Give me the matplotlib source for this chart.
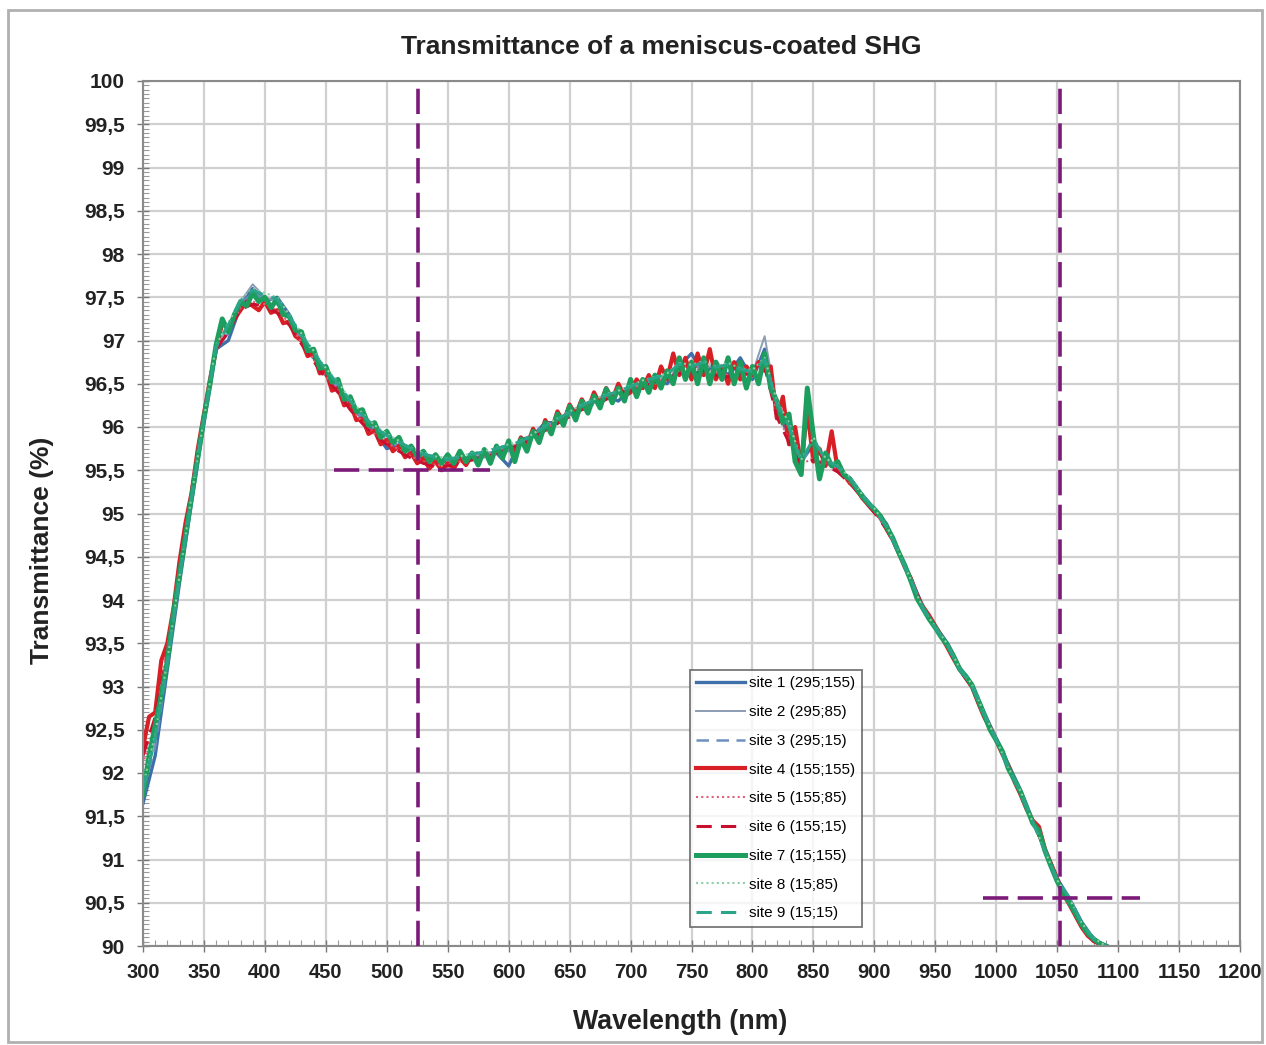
import numpy as np
import matplotlib
matplotlib.use("Agg")
import matplotlib.pyplot as plt
from matplotlib.patches import Rectangle
from matplotlib.ticker import MultipleLocator, FixedLocator

plt.rcParams['font.family'] = ['Liberation Sans', 'DejaVu Sans']

# ---------------- data ----------------
wl5 = np.arange(300, 1095, 5)    # fine sampling (sites 4, 7)
wl10 = np.arange(300, 1095, 10)  # coarse sampling (other sites)

site7 = [91.75, 92.2, 92.55, 92.9, 93.3, 93.85, 94.3, 94.75, 95.2, 95.65,
         96.1, 96.5, 96.95, 97.25, 97.1, 97.3, 97.45, 97.4, 97.55, 97.45,
         97.5, 97.38, 97.48, 97.3, 97.28, 97.12, 97.1, 96.88, 96.9, 96.68,
         96.7, 96.52, 96.55, 96.32, 96.35, 96.18, 96.2, 96.02, 96.05, 95.88,
         95.95, 95.82, 95.88, 95.72, 95.78, 95.66, 95.72, 95.6, 95.68, 95.58,
         95.68, 95.58, 95.72, 95.6, 95.7, 95.56, 95.74, 95.58, 95.78, 95.64,
         95.84, 95.6, 95.86, 95.72, 95.95, 95.82, 96.05, 95.92, 96.15, 96.02,
         96.24, 96.08, 96.3, 96.16, 96.36, 96.22, 96.44, 96.28, 96.45, 96.3,
         96.55, 96.35, 96.55, 96.4, 96.6, 96.45, 96.65, 96.5, 96.8, 96.55,
         96.75, 96.5, 96.8, 96.5, 96.75, 96.55, 96.8, 96.5, 96.75, 96.45,
         96.7, 96.5, 96.85, 96.45, 96.3, 96.05, 96.15, 95.6, 95.45, 96.45,
         95.9, 95.4, 95.7, 95.55, 95.6, 95.45, 95.4, 95.3, 95.2, 95.12,
         95.05, 94.97, 94.85, 94.72, 94.55, 94.4, 94.22, 94.02, 93.9, 93.78,
         93.68, 93.57, 93.48, 93.35, 93.2, 93.12, 93.02, 92.85, 92.68, 92.5,
         92.38, 92.25, 92.05, 91.92, 91.78, 91.6, 91.42, 91.33, 91.1, 90.92,
         90.75, 90.62, 90.5, 90.38, 90.25, 90.15, 90.08, 90.03, 90.0]

site4 = [92.3, 92.65, 92.7, 93.3, 93.5, 93.9, 94.45, 94.9, 95.25, 95.75,
         96.15, 96.55, 96.9, 97.2, 97.15, 97.25, 97.35, 97.45, 97.4, 97.35,
         97.45, 97.32, 97.35, 97.2, 97.22, 97.05, 97.0, 96.82, 96.85, 96.62,
         96.65, 96.42, 96.45, 96.25, 96.28, 96.08, 96.1, 95.92, 95.96, 95.8,
         95.85, 95.72, 95.78, 95.65, 95.7, 95.58, 95.64, 95.52, 95.6, 95.5,
         95.58, 95.52, 95.64, 95.56, 95.68, 95.6, 95.72, 95.62, 95.76, 95.66,
         95.8, 95.7, 95.88, 95.78, 95.98, 95.86, 96.08, 95.96, 96.18, 96.06,
         96.26, 96.14, 96.32, 96.2, 96.4, 96.26, 96.45, 96.32, 96.5, 96.36,
         96.4, 96.55, 96.45, 96.6, 96.45, 96.7, 96.55, 96.85, 96.6, 96.8,
         96.55, 96.85, 96.6, 96.9, 96.55, 96.7, 96.5, 96.75, 96.55, 96.7,
         96.6, 96.75, 96.65, 96.7, 96.1, 96.35, 95.8, 96.0, 95.55, 96.2,
         95.6, 95.75, 95.55, 95.95, 95.5, 95.45, 95.35, 95.3, 95.18, 95.1,
         95.02, 94.95, 94.82, 94.7, 94.55, 94.38, 94.25, 94.05, 93.92, 93.82,
         93.7, 93.58, 93.45, 93.32, 93.2, 93.1, 93.0, 92.82, 92.65, 92.52,
         92.38, 92.22, 92.08, 91.9, 91.75, 91.58, 91.45, 91.38, 91.12, 90.95,
         90.78, 90.6, 90.48, 90.35, 90.22, 90.12, 90.06, 90.02, 90.0]

site1 = [91.65, 92.2, 93.2, 94.2, 95.15, 96.05, 96.9, 97.0, 97.4, 97.6,
         97.45, 97.5, 97.3, 97.0, 96.8, 96.6, 96.45, 96.25, 96.1, 95.95,
         95.75, 95.8, 95.7, 95.65, 95.62, 95.6, 95.65, 95.62, 95.68, 95.7,
         95.55, 95.85, 95.9, 96.05, 96.05, 96.15, 96.25, 96.3, 96.35, 96.3,
         96.45, 96.45, 96.55, 96.5, 96.7, 96.85, 96.6, 96.75, 96.6, 96.8,
         96.55, 96.9, 96.2, 95.9, 95.6, 95.8, 95.6, 95.5, 95.4, 95.22,
         95.05, 94.88, 94.55, 94.25, 93.92, 93.7, 93.5, 93.22, 93.02, 92.7,
         92.4, 92.1, 91.8, 91.45, 91.12, 90.78, 90.55, 90.28, 90.08, 90.0]

site2 = [91.9, 92.4, 93.35, 94.3, 95.25, 96.1, 96.95, 97.15, 97.45, 97.65,
         97.5, 97.45, 97.25, 97.02, 96.82, 96.62, 96.48, 96.28, 96.12, 95.98,
         95.85, 95.8, 95.72, 95.66, 95.63, 95.6, 95.64, 95.66, 95.7, 95.72,
         95.78, 95.8, 95.92, 96.0, 96.08, 96.18, 96.22, 96.3, 96.38, 96.4,
         96.45, 96.5, 96.58, 96.6, 96.72, 96.7, 96.72, 96.68, 96.7, 96.65,
         96.62, 97.05, 96.25, 96.0, 95.65, 95.85, 95.62, 95.52, 95.42, 95.2,
         95.05, 94.86, 94.56, 94.24, 93.9, 93.7, 93.48, 93.2, 93.03, 92.68,
         92.38, 92.06, 91.78, 91.43, 91.1, 90.76, 90.56, 90.26, 90.08, 90.0]

site3 = [91.8, 92.3, 93.25, 94.25, 95.2, 96.08, 96.92, 97.08, 97.42, 97.55,
         97.48, 97.42, 97.28, 97.0, 96.8, 96.62, 96.45, 96.27, 96.1, 95.96,
         95.84, 95.78, 95.7, 95.64, 95.6, 95.62, 95.6, 95.66, 95.65, 95.74,
         95.72, 95.83, 95.9, 95.98, 96.08, 96.14, 96.24, 96.28, 96.36, 96.38,
         96.46, 96.48, 96.55, 96.56, 96.68, 96.72, 96.66, 96.72, 96.62, 96.7,
         96.58, 96.8, 96.28, 95.95, 95.58, 95.82, 95.6, 95.5, 95.4, 95.2,
         95.04, 94.85, 94.54, 94.24, 93.91, 93.69, 93.47, 93.21, 93.01, 92.69,
         92.39, 92.07, 91.79, 91.44, 91.11, 90.77, 90.52, 90.26, 90.07, 90.0]

site5 = [92.1, 92.6, 93.45, 94.4, 95.3, 96.15, 96.92, 97.12, 97.38, 97.45,
         97.42, 97.35, 97.2, 96.98, 96.78, 96.58, 96.42, 96.22, 96.06, 95.92,
         95.82, 95.74, 95.66, 95.6, 95.56, 95.56, 95.6, 95.62, 95.66, 95.72,
         95.76, 95.82, 95.9, 95.98, 96.06, 96.14, 96.22, 96.26, 96.34, 96.4,
         96.44, 96.5, 96.5, 96.6, 96.65, 96.62, 96.7, 96.62, 96.6, 96.65,
         96.62, 96.72, 96.15, 95.85, 95.56, 95.65, 95.58, 95.5, 95.36, 95.19,
         95.02, 94.83, 94.55, 94.25, 93.92, 93.7, 93.46, 93.2, 93.0, 92.66,
         92.38, 92.08, 91.76, 91.45, 91.12, 90.78, 90.49, 90.23, 90.06, 90.0]

site6 = [92.2, 92.65, 93.4, 94.38, 95.28, 96.12, 96.9, 97.1, 97.36, 97.42,
         97.4, 97.32, 97.18, 96.96, 96.76, 96.56, 96.4, 96.2, 96.04, 95.9,
         95.8, 95.72, 95.64, 95.58, 95.54, 95.55, 95.58, 95.62, 95.64, 95.7,
         95.74, 95.8, 95.88, 95.96, 96.04, 96.12, 96.2, 96.24, 96.32, 96.38,
         96.42, 96.46, 96.52, 96.56, 96.62, 96.6, 96.66, 96.6, 96.58, 96.62,
         96.6, 96.7, 96.12, 95.82, 95.55, 95.62, 95.56, 95.48, 95.35, 95.18,
         95.01, 94.82, 94.54, 94.24, 93.91, 93.69, 93.45, 93.19, 92.99, 92.65,
         92.37, 92.07, 91.75, 91.44, 91.11, 90.77, 90.48, 90.22, 90.05, 90.0]

site8 = [91.85, 92.45, 93.3, 94.28, 95.22, 96.1, 96.95, 97.2, 97.48, 97.6,
         97.55, 97.5, 97.3, 97.08, 96.88, 96.68, 96.52, 96.32, 96.16, 96.02,
         95.92, 95.84, 95.76, 95.7, 95.66, 95.64, 95.66, 95.7, 95.72, 95.76,
         95.8, 95.84, 95.92, 96.02, 96.1, 96.18, 96.26, 96.32, 96.38, 96.42,
         96.48, 96.54, 96.58, 96.62, 96.74, 96.72, 96.76, 96.7, 96.74, 96.68,
         96.66, 96.8, 96.3, 96.05, 95.62, 95.88, 95.64, 95.55, 95.42, 95.22,
         95.06, 94.86, 94.56, 94.23, 93.9, 93.69, 93.49, 93.21, 93.03, 92.69,
         92.39, 92.06, 91.79, 91.43, 91.1, 90.76, 90.55, 90.27, 90.09, 90.0]

site9 = [91.8, 92.4, 93.28, 94.26, 95.2, 96.08, 96.93, 97.18, 97.46, 97.58,
         97.52, 97.48, 97.28, 97.06, 96.86, 96.66, 96.5, 96.3, 96.14, 96.0,
         95.9, 95.83, 95.75, 95.69, 95.65, 95.63, 95.65, 95.69, 95.71, 95.75,
         95.79, 95.83, 95.91, 96.01, 96.09, 96.17, 96.25, 96.31, 96.37, 96.41,
         96.47, 96.53, 96.57, 96.61, 96.73, 96.7, 96.75, 96.69, 96.72, 96.67,
         96.64, 96.78, 96.28, 96.0, 95.6, 95.86, 95.62, 95.54, 95.41, 95.21,
         95.05, 94.85, 94.55, 94.23, 93.9, 93.68, 93.48, 93.2, 93.02, 92.68,
         92.38, 92.06, 91.78, 91.43, 91.1, 90.76, 90.56, 90.27, 90.08, 90.0]

labels = ["site 1 (295;155)", "site 2 (295;85)", "site 3 (295;15)",
          "site 4 (155;155)", "site 5 (155;85)", "site 6 (155;15)",
          "site 7 (15;155)", "site 8 (15;85)", "site 9 (15;15)"]

ytick_vals = [90, 90.5, 91, 91.5, 92, 92.5, 93, 93.5, 94, 94.5, 95, 95.5,
              96, 96.5, 97, 97.5, 98, 98.5, 99, 99.5, 100]
ytick_labels = ["90", "90,5", "91", "91,5", "92", "92,5", "93", "93,5", "94",
                "94,5", "95", "95,5", "96", "96,5", "97", "97,5", "98", "98,5",
                "99", "99,5", "100"]
xtick_vals = [300, 350, 400, 450, 500, 550, 600, 650, 700, 750, 800, 850,
              900, 950, 1000, 1050, 1100, 1150, 1200]

# marker lines (wavelengths and levels)
vlines_nm = [526, 1052]
hline1 = (95.5, 457, 585)
hline2 = (90.55, 989, 1118)

# ---------------- figure ----------------
W, H = 1266, 1045
fig = plt.figure(figsize=(W / 100, H / 100), dpi=100)
fig.patch.set_facecolor('white')
ax = fig.add_axes([143 / W, 1 - 946 / H, (1240 - 143) / W, (946 - 81) / H])

series = [
    (wl10, site1, dict(color='#3f6fa8', lw=2.4, ls='-')),
    (wl10, site2, dict(color='#8b9db3', lw=1.4, ls='-')),
    (wl10, site3, dict(color='#6d8fbf', lw=1.8, ls=(0, (5, 3)))),
    (wl5, site4, dict(color='#d91f26', lw=3.0, ls='-')),
    (wl10, site5, dict(color='#e0607a', lw=1.5, ls=(0, (1, 1.5)))),
    (wl10, site6, dict(color='#c8102e', lw=2.2, ls=(0, (5, 3)))),
    (wl5, site7, dict(color='#1e9e5e', lw=3.6, ls='-')),
    (wl10, site8, dict(color='#8ccfa8', lw=1.5, ls=(0, (1, 1.5)))),
    (wl10, site9, dict(color='#2aa58a', lw=2.2, ls=(0, (5, 3)))),
]
for (x, y, st), lab in zip(series, labels):
    ax.plot(x, y, label=lab, solid_joinstyle='round', **st)

purple = '#7b1a78'
for v in vlines_nm:
    ax.plot([v, v], [90, 100], color=purple, lw=2.6, ls=(0, (7, 2.6)), zorder=5)
for lvl, x0, x1 in (hline1, hline2):
    ax.plot([x0, x1], [lvl, lvl], color=purple, lw=2.6, ls=(0, (7, 2.6)), zorder=5,
            clip_on=False)

ax.set_xlim(300, 1200)
ax.set_ylim(90, 100)
ax.xaxis.set_major_locator(FixedLocator(xtick_vals))
ax.xaxis.set_minor_locator(MultipleLocator(10))
ax.yaxis.set_major_locator(FixedLocator(ytick_vals))
ax.yaxis.set_minor_locator(MultipleLocator(0.05))
ax.set_yticklabels(ytick_labels)
ax.set_xticklabels([str(v) for v in xtick_vals])
ax.grid(True, which='major', color='#d0d0d0', lw=1.6)
ax.set_axisbelow(True)
for sp in ax.spines.values():
    sp.set_color('#8a8a8a')
    sp.set_linewidth(1.5)
ax.tick_params(axis='both', which='major', direction='inout', length=8,
               color='#777777', width=1.0)
ax.tick_params(axis='both', which='minor', direction='in', length=4,
               color='#999999', width=0.8)
ax.tick_params(axis='x', which='major', labelsize=14.5, pad=8)
ax.tick_params(axis='y', which='major', labelsize=15, pad=9)
for t in ax.get_xticklabels() + ax.get_yticklabels():
    t.set_fontweight('bold')
    t.set_color('#222222')

leg = ax.legend(loc='upper left', bbox_to_anchor=((690 - 143) / 1097, (946 - 670) / 865),
                fontsize=11, frameon=True, fancybox=False, handlelength=3.2,
                handletextpad=0.25, labelspacing=0.965, borderpad=0.42,
                borderaxespad=0)
leg.get_frame().set_edgecolor('#555555')
leg.get_frame().set_linewidth(1.3)

fig.text(661 / W, 1 - 47 / H, 'Transmittance of a meniscus-coated SHG',
         ha='center', va='center', fontsize=19, fontweight='bold', color='#222222')
fig.text(680 / W, 1 - 1022 / H, 'Wavelength (nm)', ha='center', va='center',
         fontsize=19.3, fontweight='bold', color='#222222')
fig.text(42 / W, 1 - 550 / H, 'Transmittance (%)', ha='center', va='center',
         rotation=90, fontsize=19, fontweight='bold', color='#222222')

fig.patches.append(Rectangle((8 / W, 3 / H), (1262 - 8) / W, (1035 - 3) / H,
                             transform=fig.transFigure, fill=False,
                             edgecolor='#b0b0b0', lw=2))

fig.savefig('out.png', dpi=100)
